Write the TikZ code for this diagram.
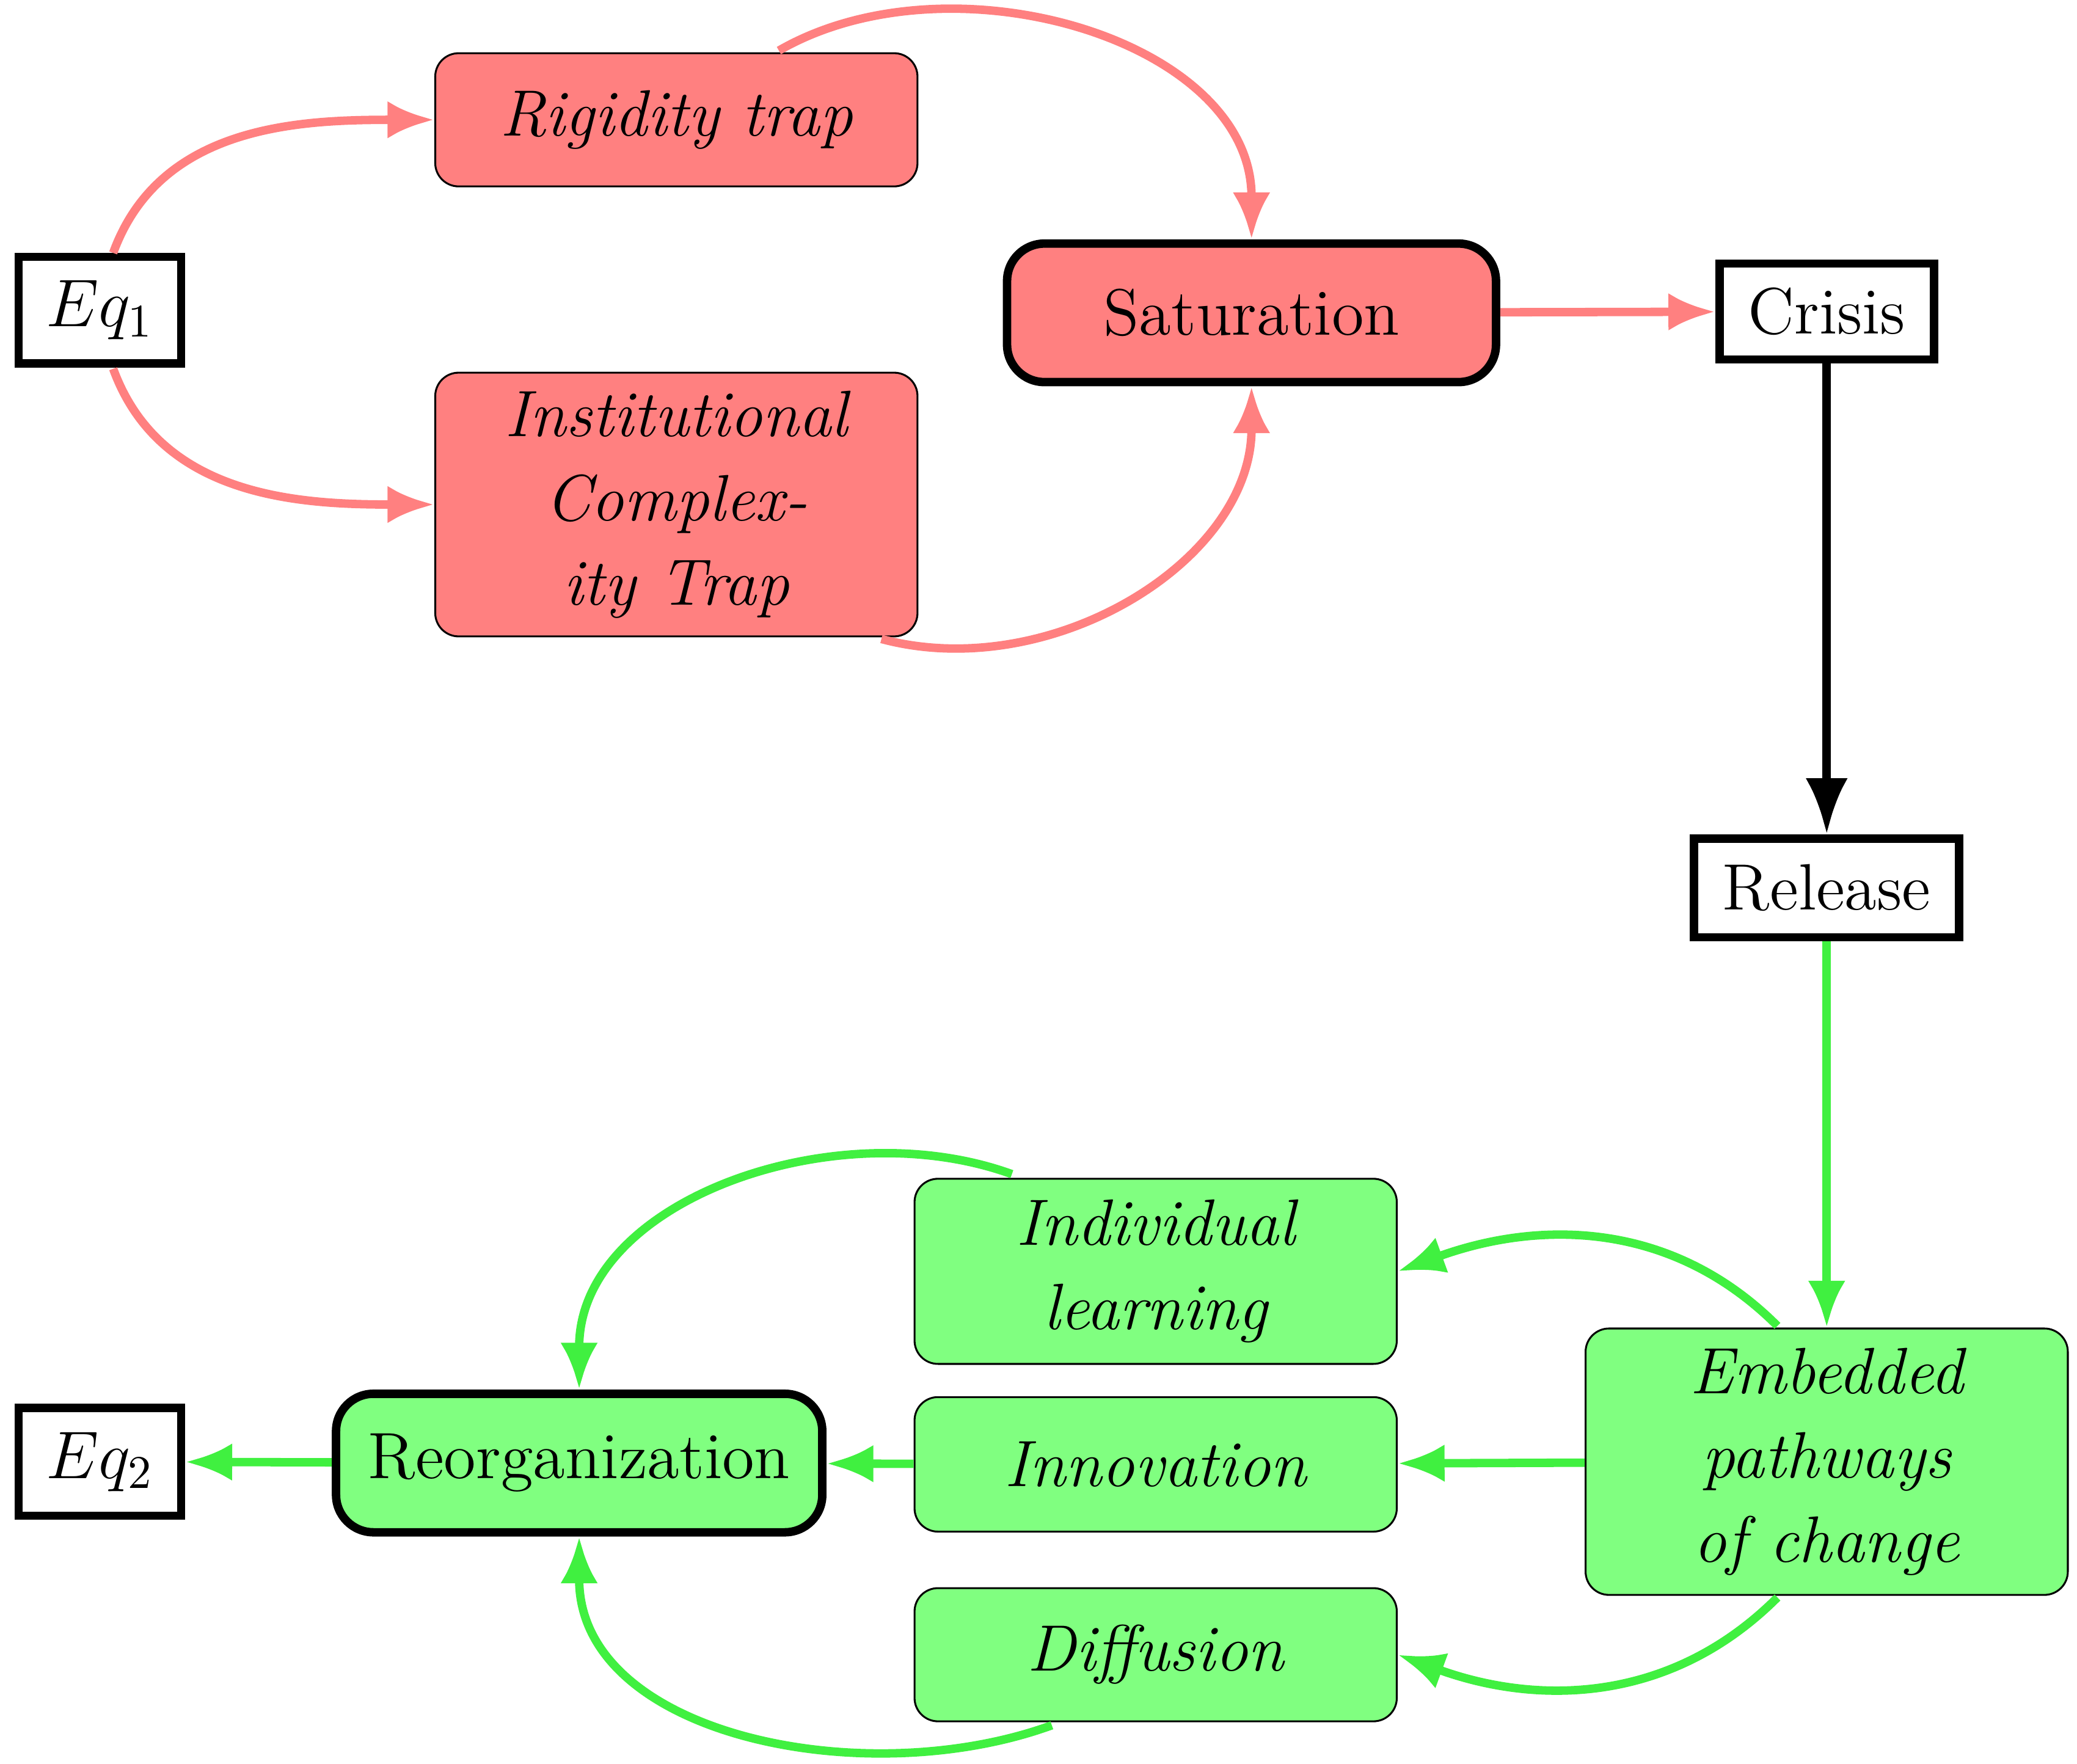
\documentclass[tikz,border=0pt]{standalone}
\usetikzlibrary{arrows.meta}
\definecolor{rd}{HTML}{FF8080}
\definecolor{gr}{HTML}{80FF80}
\definecolor{gra}{HTML}{40F040}
\begin{document}
\begin{tikzpicture}[x=0.01cm,y=-0.01cm,font=\fontsize{14}{18}\selectfont,
 box/.style={draw,line width=0.4pt,rounded corners=5pt,minimum width=3.62cm,align=center,inner sep=0pt},
 rbox/.style={box,fill=rd},
 gbox/.style={box,fill=gr},
 eq/.style={draw,line width=1.8pt,fill=white,inner sep=0pt},
 ra/.style={draw=rd,line width=1.8pt,-{Latex[length=10pt,width=8pt]}},
 ga/.style={draw=gra,line width=1.8pt,-{Latex[length=10pt,width=8pt]}},
 ka/.style={draw=black,line width=1.8pt,-{Latex[length=12pt,width=9pt]}}]
\useasboundingbox (0,0) rectangle (1560,1325);
\node[eq,minimum width=1.22cm,minimum height=0.8cm] (eq1) at (75,233) {$Eq_1$};
\node[rbox,minimum height=1.0cm] (rig) at (508,90) {\itshape Rigidity trap};
\node[rbox,minimum height=1.98cm] (ict) at (508,379) {\itshape Institutional\\\itshape Complex-\\\itshape ity Trap};
\node[rbox,line width=1.8pt,rounded corners=8pt,minimum width=3.67cm,minimum height=1.04cm] (sat) at (940,235) {Saturation};
\node[eq,minimum width=1.61cm,minimum height=0.72cm] (cri) at (1372,234) {Crisis};
\node[eq,minimum width=1.99cm,minimum height=0.74cm] (rel) at (1372,667) {Release};
\node[gbox,minimum height=2.0cm] (emb) at (1372,1098) {\itshape Embedded\\\itshape pathways\\\itshape of change};
\node[gbox,minimum height=1.39cm] (ind) at (868,955) {\itshape Individual\\\itshape learning};
\node[gbox,minimum height=1.01cm] (inn) at (868,1100) {\itshape Innovation};
\node[gbox,minimum height=1.0cm] (dif) at (868,1243) {\itshape Diffusion};
\node[gbox,line width=1.8pt,rounded corners=8pt,minimum width=3.65cm,minimum height=1.04cm] (reo) at (435,1099) {Reorganization};
\node[eq,minimum width=1.22cm,minimum height=0.81cm] (eq2) at (75,1098) {$Eq_2$};
\coordinate (e1t) at (85,190);
\coordinate (e1b) at (85,277);
\coordinate (rgt) at (585,38);
\coordinate (ictb) at (662,480);
\coordinate (embt) at (1335,996);
\coordinate (embb) at (1335,1200);
\coordinate (indt) at (760,882);
\coordinate (difb) at (790,1296);
\draw[ra] (e1t) to[out=-70+140,in=180] (rig.west);
\draw[ra] (e1b) to[out=-70,in=180] (ict.west);
\draw[ra] (rgt) to[out=30,in=90] (sat.north);
\draw[ra] (ictb) to[out=-15,in=-90] (sat.south);
\draw[ra] (sat) -- (cri);
\draw[ka] (cri) -- (rel);
\draw[ga] (rel) -- (emb);
\draw[ga] (embt) to[out=135,in=20] (ind.east);
\draw[ga] (emb) -- (inn);
\draw[ga] (embb) to[out=-135,in=-20] (dif.east);
\draw[ga] (indt) to[out=160,in=90] (reo.north);
\draw[ga] (inn) -- (reo);
\draw[ga] (difb) to[out=-160,in=-90] (reo.south);
\draw[ga] (reo) -- (eq2);
\end{tikzpicture}
\end{document}
